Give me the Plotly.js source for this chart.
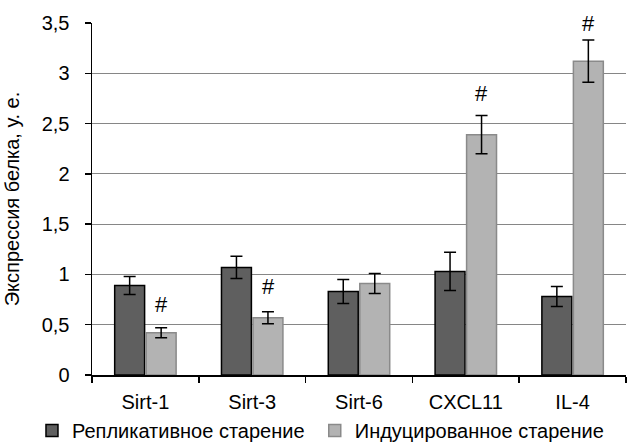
<!DOCTYPE html>
<html>
<head>
<meta charset="utf-8">
<script src="https://cdn.plot.ly/plotly-3.0.1.min.js"></script>
<style>html,body{margin:0;padding:0;background:#fff;}#chart{width:627px;height:443px;}</style>
</head>
<body>
<div id="chart"></div>
<script>
const categories = ["Sirt-1", "Sirt-3", "Sirt-6", "CXCL11", "IL-4"];
const replicativeValues = [0.89, 1.07, 0.83, 1.03, 0.78];
const replicativeErrors = [0.09, 0.11, 0.12, 0.19, 0.10];
const inducedValues = [0.42, 0.57, 0.91, 2.39, 3.12];
const inducedErrors = [0.05, 0.06, 0.10, 0.19, 0.21];
// "#" significance marks (value where the mark sits, null = none)
const hashLevels = [0.615, 0.794, null, 2.717, 3.414];
const seriesNames = ["Репликативное старение", "Индуцированное старение"];
const yTitle = "Экспрессия белка, у. е.";

const font = "'Liberation Sans', Arial, sans-serif";

const traces = [
  {
    type: "bar", name: seriesNames[0], x: categories, y: replicativeValues, legend: "legend",
    marker: {color: "#5f5f5f", line: {color: "#000000", width: 1.5}},
    error_y: {type: "data", array: replicativeErrors, visible: true, color: "#000", thickness: 1.5, width: 6}
  },
  {
    type: "bar", name: seriesNames[1], x: categories, y: inducedValues, legend: "legend2",
    marker: {color: "#b3b3b3", line: {color: "#8a8a8a", width: 1.5}},
    error_y: {type: "data", array: inducedErrors, visible: true, color: "#000", thickness: 1.5, width: 6}
  }
];

const annotations = [];
categories.forEach((c, i) => {
  if (hashLevels[i] !== null) {
    annotations.push({
      x: c, y: hashLevels[i], xref: "x", yref: "y", text: "#", showarrow: false,
      xanchor: "center", yanchor: "bottom", xshift: 16, yshift: -6,
      font: {family: font, size: 22, color: "#000"}
    });
  }
});

const legendBase = {
  orientation: "h", xref: "container", yref: "container",
  xanchor: "left", y: 0.028, yanchor: "middle",
  font: {family: font, size: 20, color: "#000"},
  itemwidth: 30, bgcolor: "rgba(0,0,0,0)"
};

const layout = {
  width: 627, height: 443,
  margin: {l: 92, r: 1, t: 23, b: 68},
  paper_bgcolor: "#fff", plot_bgcolor: "#fff",
  separators: ", ",
  barmode: "group", bargap: 0.41, bargroupgap: 0.05,
  font: {family: font, color: "#000"},
  xaxis: {
    showline: true, linecolor: "#000", linewidth: 1.5,
    ticks: "outside", tickson: "boundaries", ticklen: 6, tickcolor: "#000", tickwidth: 1.5,
    tickfont: {family: font, size: 20, color: "#000"}, ticklabelstandoff: 8,
    showgrid: false, zeroline: false
  },
  yaxis: {
    range: [0, 3.5], dtick: 0.5, tick0: 0,
    showline: true, linecolor: "#000", linewidth: 1.5,
    ticks: "outside", ticklen: 6, tickcolor: "#000", tickwidth: 1.5,
    tickfont: {family: font, size: 20, color: "#000"}, ticklabelstandoff: 11,
    showgrid: true, gridcolor: "#868686", gridwidth: 1,
    zeroline: false,
    title: {text: yTitle, font: {family: font, size: 20, color: "#000"}, standoff: 16}
  },
  showlegend: true,
  legend: Object.assign({}, legendBase, {x: 0.051}),
  legend2: Object.assign({}, legendBase, {x: 0.502}),
  annotations: annotations
};

Plotly.newPlot("chart", traces, layout, {displayModeBar: false, staticPlot: true});
</script>
</body>
</html>
